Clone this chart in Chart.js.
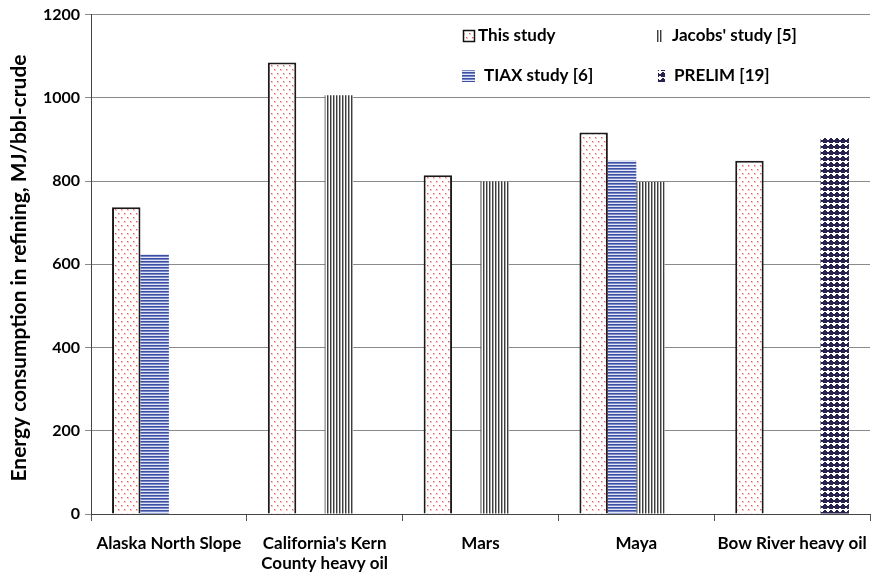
<!DOCTYPE html>
<html>
<head>
<meta charset="utf-8">
<script src="https://cdn.jsdelivr.net/npm/chart.js@4.4.1/dist/chart.umd.min.js"></script>
<style>
  html, body { margin: 0; padding: 0; background: #fff; }
  #chart { display: block; }
</style>
</head>
<body>
<canvas id="chart" width="871" height="577"></canvas>
<script>
/* Refining energy by crude: this study vs. literature values. */

const CATEGORIES = [
  "Alaska North Slope",
  ["California's Kern", "County heavy oil"],
  "Mars",
  "Maya",
  "Bow River heavy oil",
];
const THIS_STUDY = [737, 1085, 814, 917, 849];
const TIAX_STUDY = [625, null, null, 849, null];
const JACOBS_STUDY = [null, 1006, 799, 798, null];
const PRELIM = [null, null, null, null, 904];
const Y_TICKS = [0, 200, 400, 600, 800, 1000, 1200];
const Y_TITLE = "Energy consumption in refining, MJ/bbl-crude";

const FONT = "Lato";

function makePattern(w, h, draw) {
  const c = document.createElement("canvas");
  c.width = w;
  c.height = h;
  const g = c.getContext("2d");
  draw(g);
  return g.createPattern(c, "repeat");
}

// pink/red dots on white
const dotsRed = makePattern(6, 8, (g) => {
  g.fillStyle = "#ffffff";
  g.fillRect(0, 0, 6, 8);
  g.fillStyle = "#f9c4c4";
  g.fillRect(1, 1, 2, 2);
  g.fillRect(4, 5, 2, 2);
  g.fillStyle = "#ee5a5a";
  g.fillRect(1, 1, 1, 1);
  g.fillRect(4, 5, 1, 1);
});
// blue horizontal lines
const linesBlue = makePattern(1, 3, (g) => {
  g.fillStyle = "#3c4fa2"; g.fillRect(0, 0, 1, 1);
  g.fillStyle = "#7786c4"; g.fillRect(0, 1, 1, 1);
  g.fillStyle = "#e2e5f4"; g.fillRect(0, 2, 1, 1);
});
// gray vertical lines
const linesGray = makePattern(3, 1, (g) => {
  g.fillStyle = "#3d3d3d"; g.fillRect(0, 0, 1, 1);
  g.fillStyle = "#a8a8a8"; g.fillRect(1, 0, 1, 1);
  g.fillStyle = "#ffffff"; g.fillRect(2, 0, 1, 1);
});
// navy diamonds
const diamondsNavy = makePattern(6, 6, (g) => {
  g.fillStyle = "#ffffff";
  g.fillRect(0, 0, 6, 6);
  g.fillStyle = "#28224f";
  g.fillRect(1, 1, 4, 4);
  g.fillRect(0, 2, 6, 2);
  g.fillRect(2, 0, 2, 1);
});

// y title: long rotated label, drawn by hand so it can sit where the original has it
const yTitlePlugin = {
  id: "yTitle",
  afterDraw(chart) {
    const ctx = chart.ctx;
    ctx.save();
    ctx.font = `bold 18px ${FONT}`;
    const size = (18 * 427) / ctx.measureText(Y_TITLE).width;
    ctx.font = `bold ${size.toFixed(2)}px ${FONT}`;
    ctx.translate(19, 268);
    ctx.rotate(-Math.PI / 2);
    ctx.fillStyle = "#000";
    ctx.textAlign = "center";
    ctx.textBaseline = "middle";
    ctx.fillText(Y_TITLE, 0, 0);
    ctx.restore();
  },
};

const LEGEND_ITEMS = [
  { text: "This study", x: 463, y: 36, w: 12, fill: dotsRed, border: true },
  { text: "Jacobs' study [5]", x: 657, y: 36, w: 6, fill: linesGray },
  { text: "TIAX study [6]", x: 462, y: 76, w: 13, fill: linesBlue },
  { text: "PRELIM [19]", x: 658, y: 76, w: 7, fill: diamondsNavy },
];

const legendPlugin = {
  id: "cornerLegend",
  afterDraw(chart) {
    const ctx = chart.ctx;
    ctx.save();
    LEGEND_ITEMS.forEach((it) => {
      ctx.fillStyle = it.fill;
      ctx.fillRect(it.x, it.y - 6, it.w, 12);
      if (it.border) {
        ctx.strokeStyle = "#111";
        ctx.lineWidth = 1.5;
        ctx.strokeRect(it.x + 0.5, it.y - 5.5, it.w - 1, 11);
      }
      ctx.font = `bold 17px ${FONT}`;
      ctx.fillStyle = "#000";
      ctx.textBaseline = "middle";
      ctx.fillText(it.text, it.x + (it.border ? 15 : it.w + 9), it.y);
    });
    ctx.restore();
  },
};

new Chart(document.getElementById("chart"), {
  type: "bar",
  data: {
    labels: CATEGORIES,
    datasets: [
      {
        label: "This study",
        data: THIS_STUDY,
        backgroundColor: dotsRed,
        borderColor: "#1a1a1a",
        borderWidth: { top: 2, left: 2, right: 2, bottom: 0 },
      },
      { label: "TIAX study [6]", data: TIAX_STUDY, backgroundColor: linesBlue, borderWidth: 0 },
      { label: "Jacobs' study [5]", data: JACOBS_STUDY, backgroundColor: linesGray, borderWidth: 0 },
      { label: "PRELIM [19]", data: PRELIM, backgroundColor: diamondsNavy, borderWidth: 0 },
    ],
  },
  options: {
    responsive: false,
    animation: false,
    devicePixelRatio: 1,
    categoryPercentage: 0.73,
    barPercentage: 1,
    layout: { padding: { top: 14, right: 1, left: 0, bottom: 0 } },
    plugins: { legend: { display: false }, tooltip: { enabled: false } },
    scales: {
      x: {
        grid: { drawOnChartArea: false, drawTicks: true, tickLength: 7, color: "#555" },
        border: { color: "#444", width: 1 },
        ticks: {
          color: "#000",
          font: { family: FONT, size: 17, weight: "bold" },
          padding: 12,
          maxRotation: 0,
          autoSkip: false,
        },
        afterFit: (s) => {
          s.height = 63;
          // the last label runs off the right edge in the original
          s.paddingLeft = 0;
          s.paddingRight = 0;
        },
      },
      y: {
        min: 0,
        max: 1200,
        afterBuildTicks: (s) => { s.ticks = Y_TICKS.map((v) => ({ value: v })); },
        grid: { color: "#8a8a8a", tickLength: 6 },
        border: { color: "#444", width: 1 },
        ticks: {
          color: "#000",
          font: { family: FONT, size: 16, weight: "bold" },
          padding: 5,
          callback: (v) => String(v),
        },
        afterFit: (s) => { s.width = 91; },
      },
    },
  },
  plugins: [yTitlePlugin, legendPlugin],
});
</script>
</body>
</html>
